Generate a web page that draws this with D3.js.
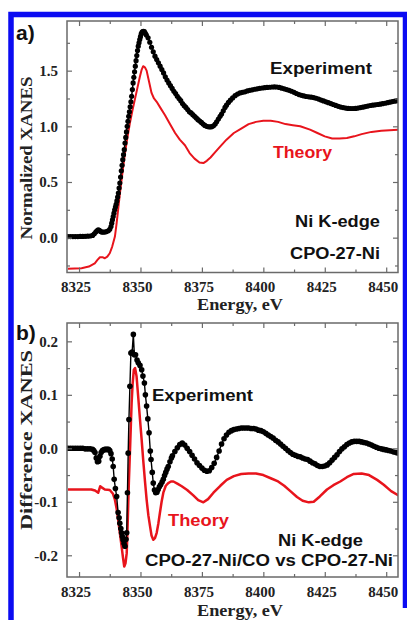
<!DOCTYPE html>
<html>
<head>
<meta charset="utf-8">
<script src="https://cdn.jsdelivr.net/npm/d3@7"></script>
<style>
  body { margin: 0; background: #fff; }
  svg { display: block; }
</style>
</head>
<body>
<div id="chart"></div>
<script>
// tick values
const xTicks = [8325, 8350, 8375, 8400, 8425, 8450];
const xMinor = [8337.5, 8362.5, 8387.5, 8412.5, 8437.5];
const yTicksA = [0, 0.5, 1.0, 1.5];
const yMinorA = [-0.25, 0.25, 0.75, 1.25, 1.75];
const yTicksB = [-0.2, -0.1, 0.0, 0.1, 0.2];
const yMinorB = [-0.15, -0.05, 0.05, 0.15];

// a) Normalized XANES, experiment  [energy eV, value]
const expA = [
  [8320.5, 0.01], [8321.5, 0.01], [8322.5, 0.01], [8323.5, 0.01], [8324.5, 0.01],
  [8325.5, 0.011], [8326.5, 0.011], [8327.5, 0.012], [8328.5, 0.013], [8329.5, 0.015],
  [8330.5, 0.02], [8331.2, 0.035], [8331.8, 0.05], [8332.3, 0.062], [8332.8, 0.07],
  [8333.3, 0.065], [8333.8, 0.055], [8334.3, 0.05], [8334.8, 0.05], [8335.5, 0.05],
  [8336.2, 0.055], [8336.9, 0.062], [8337.5, 0.075], [8338.0, 0.10], [8338.3, 0.13],
  [8338.6, 0.16], [8338.9, 0.19], [8339.2, 0.22], [8339.5, 0.25], [8339.8, 0.275],
  [8340.1, 0.30], [8340.4, 0.33], [8340.7, 0.365], [8341.0, 0.40], [8341.3, 0.445],
  [8341.6, 0.49], [8341.9, 0.545], [8342.2, 0.60], [8342.5, 0.65], [8342.8, 0.70],
  [8343.1, 0.745], [8343.4, 0.79], [8343.7, 0.85], [8344.0, 0.90], [8344.3, 0.95],
  [8344.6, 1.00], [8344.9, 1.045], [8345.2, 1.09], [8345.5, 1.13], [8345.8, 1.175],
  [8346.1, 1.22], [8346.4, 1.27], [8346.7, 1.33], [8347.0, 1.39], [8347.3, 1.44],
  [8347.6, 1.49], [8347.9, 1.54], [8348.2, 1.59], [8348.5, 1.635], [8348.8, 1.68],
  [8349.1, 1.72], [8349.4, 1.75], [8349.7, 1.78], [8350.0, 1.805], [8350.3, 1.83],
  [8350.6, 1.843], [8350.9, 1.85], [8351.2, 1.853], [8351.6, 1.85], [8352.0, 1.835],
  [8352.4, 1.82], [8353.1, 1.795], [8353.8, 1.755], [8354.5, 1.71], [8355.2, 1.67],
  [8355.9, 1.63], [8356.6, 1.60], [8357.3, 1.57], [8358.0, 1.54], [8358.7, 1.51],
  [8359.4, 1.48], [8360.1, 1.445], [8360.8, 1.415], [8361.5, 1.39], [8362.2, 1.365],
  [8362.9, 1.34], [8363.6, 1.315], [8364.3, 1.295], [8365.0, 1.27], [8365.7, 1.25],
  [8366.4, 1.23], [8367.1, 1.205], [8367.8, 1.185], [8368.5, 1.17], [8369.2, 1.15],
  [8369.9, 1.13], [8370.6, 1.12], [8371.3, 1.105], [8372.0, 1.09], [8372.7, 1.075],
  [8373.4, 1.06], [8374.1, 1.048], [8374.8, 1.035], [8375.5, 1.02], [8376.2, 1.008],
  [8376.9, 1.0], [8377.6, 0.996], [8378.3, 0.995], [8379.0, 0.997], [8379.7, 1.005],
  [8380.4, 1.02], [8381.0, 1.04], [8381.7, 1.065], [8382.4, 1.09], [8383.0, 1.11],
  [8383.7, 1.14], [8384.4, 1.17], [8385.0, 1.19], [8385.8, 1.215], [8386.6, 1.235],
  [8387.5, 1.255], [8388.5, 1.275], [8389.5, 1.29], [8390.5, 1.30], [8391.5, 1.305],
  [8392.5, 1.31], [8393.5, 1.318], [8394.5, 1.323], [8395.5, 1.328], [8396.5, 1.333],
  [8397.5, 1.337], [8398.5, 1.341], [8399.5, 1.344], [8400.5, 1.347], [8401.5, 1.349],
  [8402.5, 1.351], [8403.5, 1.353], [8404.5, 1.354], [8405.5, 1.353], [8406.5, 1.349],
  [8407.5, 1.343], [8408.5, 1.337], [8409.5, 1.33], [8410.5, 1.323], [8411.5, 1.315],
  [8412.5, 1.305], [8413.5, 1.295], [8414.5, 1.285], [8415.5, 1.278], [8416.5, 1.273],
  [8417.5, 1.268], [8418.5, 1.265], [8419.5, 1.262], [8420.5, 1.258], [8421.5, 1.252],
  [8422.5, 1.245], [8423.5, 1.236], [8424.5, 1.228], [8425.5, 1.22], [8426.5, 1.212],
  [8427.5, 1.204], [8428.5, 1.196], [8429.5, 1.188], [8430.5, 1.18], [8431.5, 1.173],
  [8432.5, 1.168], [8433.5, 1.164], [8434.5, 1.161], [8435.5, 1.16], [8436.5, 1.16],
  [8437.5, 1.161], [8438.5, 1.164], [8439.5, 1.168], [8440.5, 1.172], [8441.5, 1.177],
  [8442.5, 1.182], [8443.5, 1.187], [8444.5, 1.19], [8445.5, 1.193], [8446.5, 1.196],
  [8447.5, 1.199], [8448.5, 1.203], [8449.5, 1.207], [8450.5, 1.212], [8451.5, 1.217],
  [8452.5, 1.222], [8453.5, 1.226], [8454.5, 1.23], [8455, 1.232]
];

// a) theory
const theoA = [
  [8320.5, -0.28], [8326, -0.275], [8329, -0.26], [8331.4, -0.23], [8332.5, -0.2],
  [8333.5, -0.176], [8334.5, -0.175], [8335.5, -0.185], [8336.5, -0.17], [8337.5, -0.14],
  [8338.5, -0.08], [8339.6, 0.01], [8340.3, 0.13], [8340.9, 0.25], [8341.6, 0.39],
  [8342.3, 0.52], [8343, 0.64], [8343.7, 0.76], [8344.7, 0.90], [8345.7, 1.03],
  [8346.7, 1.14], [8347.7, 1.24], [8348.8, 1.35], [8349.8, 1.45], [8350.5, 1.51],
  [8351.1, 1.54], [8351.8, 1.53], [8352.5, 1.50], [8353.5, 1.40], [8354.5, 1.30],
  [8355.5, 1.25], [8356.6, 1.22], [8358, 1.17], [8360, 1.10], [8362, 1.02],
  [8364.1, 0.94], [8366, 0.88], [8368.1, 0.83], [8370, 0.76], [8372, 0.71],
  [8374, 0.675], [8375.6, 0.67], [8377, 0.69], [8378.5, 0.72], [8380.5, 0.77],
  [8382.5, 0.82], [8385, 0.88], [8388, 0.94], [8391, 0.98], [8394, 1.02],
  [8397, 1.04], [8400, 1.05], [8403, 1.05], [8406, 1.04], [8409, 1.02],
  [8412, 1.01], [8415, 1.00], [8419, 0.97], [8422, 0.94], [8425, 0.91],
  [8428, 0.89], [8431, 0.89], [8434, 0.895], [8437, 0.91], [8440, 0.93],
  [8444, 0.95], [8448, 0.96], [8455, 0.97]
];

// b) Difference XANES, experiment (dense where the scan is smooth)
const expB = [
  [8320.5, 0.0], [8321.5, 0.0], [8322.5, 0.0], [8323.5, 0.0], [8324.5, 0.0],
  [8325.5, 0.0], [8326.5, 0.0], [8327.5, -0.001], [8328.5, -0.001], [8329.5, -0.001],
  [8330.5, -0.002], [8331, -0.004], [8331.5, -0.008], [8332, -0.018], [8332.5, -0.025],
  [8333, -0.024], [8333.5, -0.015], [8334, -0.008], [8334.5, -0.004], [8335, -0.003],
  [8335.5, -0.002], [8336, -0.002], [8336.5, -0.002], [8337, -0.002], [8337.5, -0.004],
  [8338, -0.01], [8338.5, -0.02], [8338.9, -0.034], [8339.3, -0.058], [8339.8, -0.075],
  [8340.3, -0.09], [8340.9, -0.12], [8341.3, -0.13], [8341.6, -0.14], [8342, -0.15],
  [8342.3, -0.158], [8342.6, -0.165], [8342.9, -0.171], [8343.3, -0.178], [8343.7, -0.183],
  [8344.1, -0.17], [8344.4, -0.158], [8344.7, -0.083], [8345, -0.009], [8345.3, 0.054],
  [8345.7, 0.116], [8346.1, 0.178], [8346.6, 0.18], [8347.1, 0.213], [8347.5, 0.175],
  [8348, 0.175], [8348.6, 0.165], [8349.1, 0.16], [8349.8, 0.155], [8350.5, 0.147],
  [8351, 0.135], [8351.6, 0.122], [8352, 0.10], [8352.5, 0.079], [8353, 0.055],
  [8353.5, 0.029], [8354, -0.005], [8354.3, -0.021], [8354.8, -0.045], [8355.2, -0.065],
  [8355.7, -0.078], [8356.2, -0.083], [8356.7, -0.082], [8357.2, -0.077], [8357.7, -0.072],
  [8358.2, -0.068], [8358.8, -0.063], [8359.3, -0.058], [8359.8, -0.051], [8360.3, -0.045],
  [8360.8, -0.039], [8361.3, -0.034], [8362, -0.025], [8362.6, -0.018], [8363, -0.014],
  [8364, -0.006], [8365, 0.001], [8366, 0.007], [8367, 0.01], [8368, 0.006],
  [8369, 0.0], [8370, -0.006], [8371, -0.013], [8372, -0.02], [8373, -0.027],
  [8374, -0.032], [8375, -0.037], [8376, -0.041], [8377, -0.043], [8378, -0.042],
  [8379, -0.036], [8380, -0.028], [8381, -0.017], [8382, -0.005], [8383, 0.008],
  [8384, 0.018], [8385, 0.025], [8386, 0.03], [8387, 0.033], [8388, 0.035],
  [8389, 0.036], [8390, 0.037], [8391, 0.038], [8392, 0.038], [8393, 0.038],
  [8394, 0.038], [8395, 0.037], [8396, 0.037], [8397, 0.036], [8398, 0.034],
  [8399, 0.033], [8400, 0.031], [8401, 0.028], [8402, 0.025], [8403, 0.022],
  [8404, 0.019], [8405, 0.015], [8406, 0.012], [8407, 0.008], [8408, 0.004],
  [8409, 0.0], [8410, -0.004], [8411, -0.008], [8412, -0.011], [8413, -0.013],
  [8414, -0.015], [8415, -0.016], [8416, -0.018], [8417, -0.02], [8418, -0.021],
  [8419, -0.024], [8420, -0.027], [8421, -0.029], [8422, -0.032], [8423, -0.034],
  [8424, -0.034], [8425, -0.033], [8426, -0.031], [8427, -0.027], [8428, -0.022],
  [8429, -0.017], [8430, -0.012], [8431, -0.006], [8432, -0.001], [8433, 0.003],
  [8434, 0.007], [8435, 0.01], [8436, 0.012], [8437, 0.013], [8438, 0.013],
  [8439, 0.013], [8440, 0.012], [8441, 0.011], [8442, 0.01], [8443, 0.008],
  [8444, 0.006], [8445, 0.004], [8446, 0.002], [8447, 0.0], [8448, -0.001],
  [8449, -0.002], [8450, -0.003], [8451, -0.004], [8452, -0.005], [8453, -0.007],
  [8454, -0.008], [8455, -0.009]
];

// b) theory
const theoB = [
  [8320.5, -0.077], [8326, -0.077], [8330, -0.077], [8331.5, -0.079], [8332.8, -0.083],
  [8333.6, -0.071], [8334.2, -0.073], [8335.5, -0.077], [8337.5, -0.078], [8338.8, -0.085],
  [8339.6, -0.096], [8340.3, -0.113], [8340.9, -0.133], [8341.6, -0.158], [8342.3, -0.183],
  [8342.9, -0.205], [8343.4, -0.221], [8343.9, -0.215], [8344.4, -0.196], [8344.7, -0.155],
  [8345, -0.108], [8345.3, -0.06], [8345.7, -0.009], [8346.1, 0.045], [8346.4, 0.085],
  [8346.8, 0.12], [8347.3, 0.147], [8347.8, 0.15], [8348.4, 0.135], [8349.1, 0.095],
  [8349.8, 0.054], [8350.5, 0.015], [8351.1, -0.021], [8351.8, -0.06], [8352.5, -0.096],
  [8353.2, -0.125], [8353.9, -0.146], [8354.5, -0.163], [8355.2, -0.171], [8355.9, -0.168],
  [8356.6, -0.158], [8357.3, -0.14], [8357.9, -0.121], [8358.6, -0.1], [8359.3, -0.083],
  [8360.3, -0.07], [8361.3, -0.065], [8362.4, -0.062], [8363.4, -0.062], [8365, -0.066],
  [8366.8, -0.071], [8369, -0.078], [8371.5, -0.088], [8373.5, -0.097], [8375.6, -0.101],
  [8377.5, -0.095], [8379.7, -0.083], [8382.5, -0.07], [8385.1, -0.059], [8388, -0.052],
  [8391, -0.048], [8394, -0.047], [8397, -0.047], [8400, -0.05], [8403, -0.056],
  [8406, -0.062], [8408.5, -0.07], [8411, -0.08], [8413.7, -0.091], [8416, -0.098],
  [8418.5, -0.101], [8420.5, -0.1], [8423, -0.09], [8425.9, -0.077], [8428.5, -0.069],
  [8431.3, -0.062], [8434, -0.054], [8436.8, -0.048], [8440, -0.047], [8443, -0.05],
  [8446.3, -0.059], [8449, -0.068], [8452, -0.08], [8455, -0.088]
];

const width = 407;
const height = 620;
const left = 67, right = 398;
const red = '#e8141c';
const frameColor = '#6a6a6a';
const serif = '"Liberation Serif", "Times New Roman", serif';
const sans = '"Liberation Sans", Arial, sans-serif';

const svg = d3.select('#chart').append('svg')
    .attr('width', width)
    .attr('height', height);

// blue border round the figure (open at the bottom)
svg.append('path')
    .attr('d', 'M11,620V14.5H405.5V608')
    .attr('fill', 'none')
    .attr('stroke', '#0b0bf2')
    .attr('stroke-width', 5.5);

const x = d3.scaleLinear().domain([8320.1, 8454.8]).range([left, right]);

drawPanel({
    id: 'a', top: 21, bottom: 272.5,
    yDomain: [-0.313, 1.946], yTicks: yTicksA, yMinor: yMinorA,
    exp: expA, theo: theoA,
    expLine: 1.5, expDot: 2.6, theoLine: 2,
    yTitle: 'Normalized XANES', yTitleLen: 163, yTitleY: 158,
    xTitleY: 310,
    letter: 'a)', letterY: 40,
    notes: [
        { t: 'Experiment', x: 270, y: 74, w: 102, c: '#111' },
        { t: 'Theory', x: 273, y: 158, w: 59, c: red },
        { t: 'Ni K-edge', x: 295, y: 227, w: 85, c: '#111' },
        { t: 'CPO-27-Ni', x: 290, y: 259, w: 90, c: '#111' }
    ]
});

drawPanel({
    id: 'b', top: 323, bottom: 577,
    yDomain: [-0.2406, 0.2343], yTicks: yTicksB, yMinor: yMinorB,
    exp: expB, theo: theoB,
    expLine: 1.4, expDot: 2.8, theoLine: 2.5,
    yTitle: 'Difference XANES', yTitleLen: 180, yTitleY: 440,
    xTitleY: 615.5,
    letter: 'b)', letterY: 340,
    notes: [
        { t: 'Experiment', x: 152, y: 401, w: 101, c: '#111' },
        { t: 'Theory', x: 168, y: 526, w: 61, c: red },
        { t: 'Ni K-edge', x: 278, y: 546, w: 85, c: '#111' },
        { t: 'CPO-27-Ni/CO vs CPO-27-Ni', x: 145, y: 566, w: 248, c: '#111' }
    ]
});

function drawPanel(p) {
    const y = d3.scaleLinear().domain(p.yDomain).range([p.bottom, p.top]);
    const g = svg.append('g').attr('class', 'panel-' + p.id);

    g.append('clipPath').attr('id', 'clip-' + p.id)
        .append('rect')
        .attr('x', left).attr('y', p.top)
        .attr('width', right - left).attr('height', p.bottom - p.top);

    const plot = g.append('g').attr('clip-path', `url(#clip-${p.id})`);
    const line = d3.line().x(d => x(d[0])).y(d => y(d[1]));

    // theory first, experiment dots on top
    plot.append('path')
        .datum(p.theo)
        .attr('d', line)
        .attr('fill', 'none')
        .attr('stroke', red)
        .attr('stroke-width', p.theoLine)
        .attr('stroke-linejoin', 'round');

    plot.append('path')
        .datum(p.exp)
        .attr('d', line)
        .attr('fill', 'none')
        .attr('stroke', '#000')
        .attr('stroke-width', p.expLine)
        .attr('stroke-linejoin', 'round');

    plot.selectAll('circle')
        .data(p.exp)
        .enter().append('circle')
        .attr('cx', d => x(d[0]))
        .attr('cy', d => y(d[1]))
        .attr('r', p.expDot)
        .attr('fill', '#000');

    // frame
    g.append('rect')
        .attr('x', left).attr('y', p.top)
        .attr('width', right - left).attr('height', p.bottom - p.top)
        .attr('fill', 'none')
        .attr('stroke', frameColor)
        .attr('stroke-width', 1.5);

    // axes, ticks pointing inwards on all four sides
    const axes = [
        [d3.axisBottom(x).tickValues(xTicks).tickSize(-5).tickPadding(9).tickFormat(d3.format('d')), `translate(0,${p.bottom})`],
        [d3.axisBottom(x).tickValues(xMinor).tickSize(-3).tickFormat(''), `translate(0,${p.bottom})`],
        [d3.axisTop(x).tickValues(xTicks).tickSize(-5).tickFormat(''), `translate(0,${p.top})`],
        [d3.axisTop(x).tickValues(xMinor).tickSize(-3).tickFormat(''), `translate(0,${p.top})`],
        [d3.axisLeft(y).tickValues(p.yTicks).tickSize(-5).tickPadding(9).tickFormat(d => d.toFixed(1)), `translate(${left},0)`],
        [d3.axisLeft(y).tickValues(p.yMinor).tickSize(-3).tickFormat(''), `translate(${left},0)`],
        [d3.axisRight(y).tickValues(p.yTicks).tickSize(-5).tickFormat(''), `translate(${right},0)`],
        [d3.axisRight(y).tickValues(p.yMinor).tickSize(-3).tickFormat(''), `translate(${right},0)`]
    ];
    axes.forEach(([ax, tr]) => {
        const a = g.append('g').attr('transform', tr).call(ax);
        a.select('.domain').remove();
        a.selectAll('line').attr('stroke', frameColor).attr('stroke-width', 1.2);
        a.selectAll('text')
            .attr('fill', '#222')
            .style('font-family', serif)
            .style('font-weight', 'bold')
            .style('font-size', '15px');
    });
    // x labels sit a little left of their ticks in the original
    g.selectAll('text').filter(function () { return this.getAttribute('dy') === '0.71em'; })
        .attr('dx', -3.5);

    // axis titles
    g.append('text')
        .attr('transform', `translate(32,${p.yTitleY}) rotate(-90)`)
        .attr('text-anchor', 'middle')
        .attr('textLength', p.yTitleLen)
        .attr('lengthAdjust', 'spacingAndGlyphs')
        .style('font-family', serif)
        .style('font-weight', 'bold')
        .style('font-size', '17.5px')
        .attr('fill', '#222')
        .text(p.yTitle);

    g.append('text')
        .attr('x', 240).attr('y', p.xTitleY)
        .attr('text-anchor', 'middle')
        .attr('textLength', 86)
        .attr('lengthAdjust', 'spacingAndGlyphs')
        .style('font-family', serif)
        .style('font-weight', 'bold')
        .style('font-size', '16px')
        .attr('fill', '#222')
        .text('Energy, eV');

    // panel letter
    g.append('text')
        .attr('x', 16).attr('y', p.letterY)
        .style('font-family', sans)
        .style('font-weight', 'bold')
        .style('font-size', '21px')
        .attr('fill', '#111')
        .text(p.letter);

    // in-plot notes
    g.selectAll('.note')
        .data(p.notes)
        .enter().append('text')
        .attr('class', 'note')
        .attr('x', d => d.x).attr('y', d => d.y)
        .attr('textLength', d => d.w)
        .attr('lengthAdjust', 'spacingAndGlyphs')
        .style('font-family', sans)
        .style('font-weight', 'bold')
        .style('font-size', '16px')
        .attr('fill', d => d.c)
        .text(d => d.t);
}
</script>
</body>
</html>
